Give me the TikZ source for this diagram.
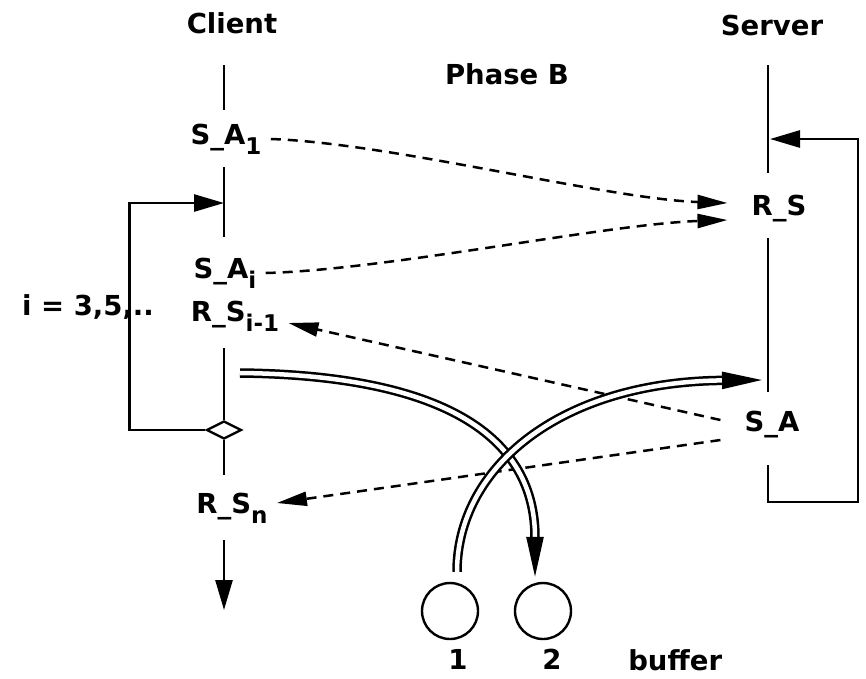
\documentclass[tikz,border=0pt]{standalone}
\usepackage{fontspec}
\setmainfont{DejaVu Sans}
\usepackage{tikz}
\usetikzlibrary{arrows.meta, positioning, shapes.geometric}
\tikzstyle{life} = [line width=2.7pt]
\tikzstyle{arrow} = [line width=2.7pt, -{Triangle[length=30pt, width=17pt]}]
\tikzstyle{msg} = [line width=2.5pt, dash pattern=on 10pt off 7pt,
    -{Triangle[length=30pt, width=14pt]}]
\tikzstyle{flow} = [line width=2.5pt, double, double distance=4.5pt,
    -{Triangle[length=40pt, width=17pt]}]
\tikzstyle{srv} = [outer xsep=15pt]
\tikzstyle{buf} = [draw, circle, line width=2.4pt, minimum size=56pt, inner sep=0pt]
\tikzstyle{fork} = [draw, diamond, line width=2.4pt, minimum width=35pt,
    minimum height=18pt, inner sep=0pt]
\newcommand{\lo}[1]{\raisebox{-10pt}{\fontsize{23pt}{25pt}\selectfont #1}}

\begin{document}
\begin{tikzpicture}[x=1pt, y=-1pt]
    \fontsize{27.5pt}{30pt}\selectfont\bfseries
    \useasboundingbox (0,0) rectangle (866,678);

    % Place the headings
    \node (client) at (232,23) {Client};
    \node (server) at (772,25) {Server};
    \node (phase) at (507,74) {Phase B};

    % Client side
    \node (sa1) at (226,139) {S\_A\lo{1}};
    \node (sai) at (225,273) {S\_A\lo{i}};
    \node (rsi) at (235,316) {R\_S\lo{i-1}};
    \node (rsn) at (232,508) {R\_S\lo{n}};
    \node (count) at (88,307) {i = 3,5,..};
    \node [fork] (fork) at (224,430) {};
    \coordinate (cin) at (224,203);
    \coordinate (cout) at (240,373);

    % Server side
    \node [srv] (rs) at (779,209) {R\_S};
    \node [srv] (sa) at (772,425) {S\_A};
    \coordinate (sin) at (770,139);
    \coordinate (sdat) at (762,380);
    \coordinate (sbot) at (768,502);

    % Buffers
    \node [buf] (buf1) at (450,611) {};
    \node [buf] (buf2) at (543,611) {};
    \node [below=0pt of buf1, xshift=8pt] (one) {1};
    \node [below=0pt of buf2, xshift=9pt] (two) {2};
    \node [right=48pt of two] (buffer) {buffer};

    % Lifelines
    \draw [life] (224,65) -- (224,110);
    \draw [life] (224,167) -- (224,237);
    \draw [life] (224,348) -- (fork.north);
    \draw [life] (fork.south) -- (224,475);
    \draw [arrow] (224,540) -- (224,610);
    \draw [life] (768,65) -- (768,173);
    \draw [life] (768,238) -- (768,392);

    % Loops
    \draw [arrow] (fork.west) -- ++(-76,0) |- (cin);
    \draw [arrow] (768,465) -- (sbot) -- ++(90,0) |- (sin);

    % Messages
    \draw [msg] (sa1.east) .. controls +(120,4) and +(-120,-4) .. ([yshift=6pt]rs.west);
    \draw [msg] (sai.east) .. controls +(120,-3) and +(-120,4) .. ([yshift=-11pt]rs.west);
    \draw [msg] ([yshift=5pt]sa.west) -- ([yshift=-7pt]rsi.east);
    \draw [msg] ([yshift=-15pt]sa.west) -- ([yshift=5pt]rsn.east);

    % Data
    \draw [flow] (cout) .. controls +(190,2) and +(0,-148) .. ([xshift=-8pt,yshift=5pt]buf2.north);
    \draw [flow] ([xshift=7pt,yshift=10pt]buf1.north) .. controls +(0,-103) and +(-204,2) .. (sdat);
\end{tikzpicture}
\end{document}
